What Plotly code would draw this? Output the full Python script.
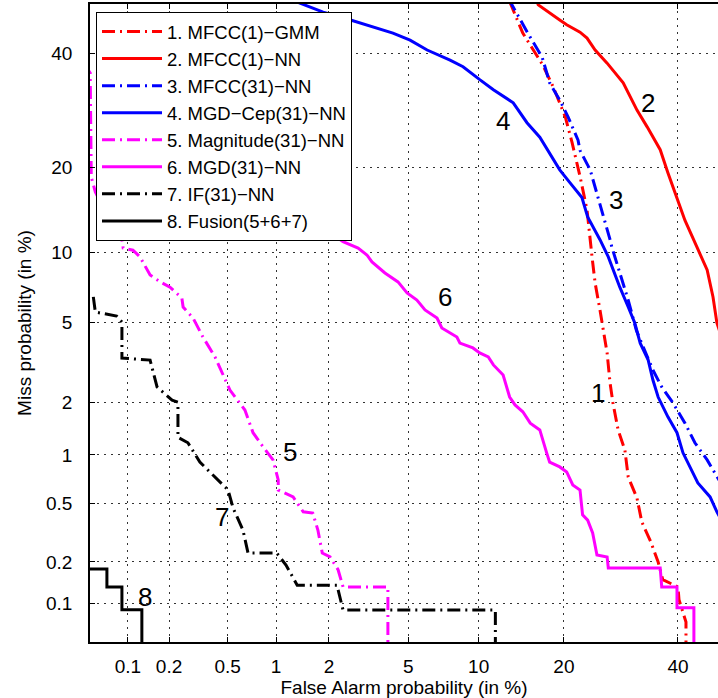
from statistics import NormalDist

import plotly.graph_objects as go

# DET curves, all values in percent (false alarm, miss)
fa_1 = [13.1, 14.6, 17.1, 18.5, 20.2, 21.2, 22.4, 23.5, 24.3, 24.8, 25.6, 26.1, 26.8, 27.3,
        27.8, 28.7, 29.9, 30.5, 32.1, 33.0, 34.7, 36.1, 37.0, 40.0, 40.2, 41.6, 41.6]
miss_1 = [50.5, 44.0, 37.6, 33.4, 28.0, 23.7, 18.7, 14.4, 9.6, 7.5, 5.72, 4.63, 3.59, 2.53,
          1.98, 1.40, 1.07, 0.734, 0.541, 0.377, 0.276, 0.200, 0.149, 0.132, 0.106, 0.0716, 0.04]

fa_2 = [16.0, 16.5, 19.4, 20.4, 22.4, 23.5, 24.8, 26.8, 29.6, 32.1, 34.0, 36.5, 38.0, 39.8,
        41.4, 43.8, 45.9, 47.1, 47.9, 49.0]
miss_2 = [52.0, 49.8, 46.7, 45.7, 44.2, 43.0, 40.6, 38.0, 34.2, 29.2, 26.3, 22.6, 19.2, 15.9,
          13.2, 10.5, 8.5, 6.53, 4.99, 4.2]

fa_3 = [13.0, 15.2, 17.0, 18.0, 19.4, 20.6, 22.1, 22.4, 24.0, 25.1, 26.4, 27.3, 27.6, 28.5,
        30.5, 32.0, 35.1, 36.8, 39.0, 41.4, 43.4, 45.9, 47.9, 49.0]
miss_3 = [51.0, 44.0, 39.2, 34.2, 31.0, 28.0, 24.1, 22.5, 19.6, 16.5, 13.2, 11.2, 10.5, 9.07,
          6.33, 4.6, 2.95, 2.41, 1.98, 1.53, 1.18, 0.934, 0.734, 0.65]

fa_4 = [1.2, 1.86, 2.41, 3.35, 4.24, 5.10, 6.09, 7.65, 8.66, 10.1, 11.4, 13.5, 15.1, 16.7,
        18.3, 19.4, 20.9, 22.7, 23.6, 25.6, 27.0, 27.8, 29.0, 30.5, 31.7, 32.7, 34.2, 35.1,
        36.1, 38.0, 39.8, 41.0, 42.4, 44.0, 46.5, 47.9, 49.0]
miss_4 = [51.0, 48.3, 47.1, 45.3, 44.0, 42.6, 40.6, 38.6, 37.3, 34.8, 32.9, 30.5, 27.0, 24.6,
          21.5, 19.6, 17.8, 15.9, 13.6, 11.2, 9.6, 8.5, 7.2, 5.9, 4.99, 4.01, 3.31, 2.62,
          2.13, 1.66, 1.35, 1.03, 0.847, 0.674, 0.55, 0.44, 0.38]

fa_5 = [0.045, 0.051, 0.052, 0.056, 0.077, 0.090, 0.092, 0.109, 0.123, 0.146, 0.172, 0.203,
        0.246, 0.251, 0.294, 0.343, 0.413, 0.459, 0.517, 0.644, 0.724, 0.833, 0.959, 1.03,
        1.03, 1.26, 1.44, 1.63, 1.74, 1.84, 2.03, 2.24, 2.38, 4.01, 4.01]
miss_5 = [38.0, 36.1, 18.6, 16.6, 12.5, 11.2, 10.4, 10.2, 9.6, 8.1, 7.6, 7.2, 6.46, 5.9,
          5.26, 4.29, 3.43, 2.88, 2.32, 1.81, 1.35, 1.12, 0.934, 0.705, 0.609, 0.55, 0.44,
          0.432, 0.333, 0.231, 0.217, 0.176, 0.132, 0.132, 0.04]

fa_6 = [0.33, 0.92, 1.84, 2.10, 2.38, 2.85, 3.16, 3.35, 3.88, 4.48, 4.94, 5.48, 5.96, 6.73,
        7.06, 8.17, 8.41, 9.49, 10.1, 10.9, 11.4, 12.4, 13.1, 13.7, 14.6, 15.5, 16.7, 17.6,
        18.0, 19.4, 20.4, 21.3, 22.4, 22.8, 23.6, 24.4, 25.1, 26.8, 27.0, 36.5, 36.8, 39.8,
        39.8, 43.2, 43.2]
miss_6 = [21.0, 15.6, 12.5, 11.7, 11.0, 10.4, 9.77, 9.16, 8.26, 7.58, 6.80, 6.33, 5.72, 5.26,
          4.73, 4.29, 4.01, 3.80, 3.59, 3.43, 3.13, 2.78, 2.13, 1.93, 1.77, 1.53, 1.40, 1.03,
          0.906, 0.847, 0.789, 0.655, 0.609, 0.42, 0.388, 0.318, 0.224, 0.217, 0.181, 0.181,
          0.132, 0.132, 0.092, 0.092, 0.04]

fa_7 = [0.054, 0.056, 0.082, 0.090, 0.090, 0.146, 0.164, 0.210, 0.231, 0.231, 0.271, 0.327,
        0.400, 0.503, 0.542, 0.626, 0.674, 1.01, 1.145, 1.33, 2.21, 2.38, 11.6, 11.6]
miss_7 = [6.54, 5.60, 5.37, 5.04, 3.39, 3.31, 2.41, 2.05, 2.00, 1.27, 1.18, 0.906, 0.755,
          0.609, 0.466, 0.333, 0.231, 0.231, 0.190, 0.136, 0.136, 0.0886, 0.0886, 0.04]

fa_8 = [0.045, 0.069, 0.090, 0.127]
miss_8 = [0.178, 0.132, 0.089, 0.04]

names = ["1. MFCC(1)\u2212GMM", "2. MFCC(1)\u2212NN", "3. MFCC(31)\u2212NN",
         "4. MGD\u2212Cep(31)\u2212NN", "5. Magnitude(31)\u2212NN", "6. MGD(31)\u2212NN",
         "7. IF(31)\u2212NN", "8. Fusion(5+6+7)"]

tick_vals = [0.1, 0.2, 0.5, 1, 2, 5, 10, 20, 40]
tick_text = ["0.1", "0.2", "0.5", "1", "2", "5", "10", "20", "40"]

_nd = NormalDist()


def probit(values):
    return [_nd.inv_cdf(v / 100.0) for v in values]


DASHDOT = "13px,5px,2px,5px"
styles = [
    dict(color="#ff0000", dash=DASHDOT),
    dict(color="#ff0000", dash="solid"),
    dict(color="#0000ff", dash=DASHDOT),
    dict(color="#0000ff", dash="solid"),
    dict(color="#ff00ff", dash=DASHDOT),
    dict(color="#ff00ff", dash="solid"),
    dict(color="#000000", dash=DASHDOT),
    dict(color="#000000", dash="solid"),
]
curves = [(fa_1, miss_1), (fa_2, miss_2), (fa_3, miss_3), (fa_4, miss_4),
          (fa_5, miss_5), (fa_6, miss_6), (fa_7, miss_7), (fa_8, miss_8)]

fig = go.Figure()
for i, ((fa, miss), name, st) in enumerate(zip(curves, names, styles)):
    fig.add_trace(
        go.Scatter(
            x=probit(fa),
            y=probit(miss),
            name=name,
            mode="lines",
            line=dict(color=st["color"], dash=st["dash"], width=3,
                      shape="hv" if i == 7 else "linear"),
        )
    )

# curve number labels (FA %, Miss %)
label_pos = {"1": (25.3, 2.24), "2": (34.2, 30.5), "3": (28.3, 15.6), "4": (12.4, 27.3),
             "5": (1.21, 1.04), "6": (7.28, 6.53), "7": (0.459, 0.407), "8": (0.134, 0.111)}
for txt, (fx, my) in label_pos.items():
    fig.add_annotation(x=probit([fx])[0], y=probit([my])[0], text=txt, showarrow=False,
                       font=dict(size=26, color="black"))

axis_common = dict(
    tickvals=probit(tick_vals),
    ticktext=tick_text,
    ticks="inside",
    ticklen=5,
    tickcolor="black",
    showline=True,
    linecolor="black",
    linewidth=1.5,
    showgrid=True,
    gridcolor="#333333",
    griddash="1.5px,5.5px",
    gridwidth=1,
    zeroline=False,
    automargin=False,
    tickfont=dict(size=19, color="black"),
)

fig.update_layout(
    width=718,
    height=698,
    margin=dict(l=90, r=0, t=4, b=56, autoexpand=False),
    plot_bgcolor="white",
    paper_bgcolor="white",
    font=dict(family="Liberation Sans, Arial, sans-serif", color="black"),
    showlegend=True,
    legend=dict(
        x=(96 - 90) / 628, y=(642 - 12) / 638, xanchor="left", yanchor="top",
        bgcolor="white", bordercolor="black", borderwidth=1,
        font=dict(size=18.5), itemwidth=60,
    ),
    xaxis=dict(axis_common, range=[-3.286, -0.047], mirror="ticks", ticklabelstandoff=6,
               title=dict(text="False Alarm probability (in %)", font=dict(size=19), standoff=3)),
    yaxis=dict(axis_common, range=[-3.291, -0.0005], mirror=False, ticklabelstandoff=12,
               title=dict(text="Miss probability (in %)", font=dict(size=19), standoff=9)),
)

# drop the default page margin so the figure sits at the window's top-left corner
fig.write_html("out.html", config={"displayModeBar": False},
               post_script="document.body.style.margin='0';")
